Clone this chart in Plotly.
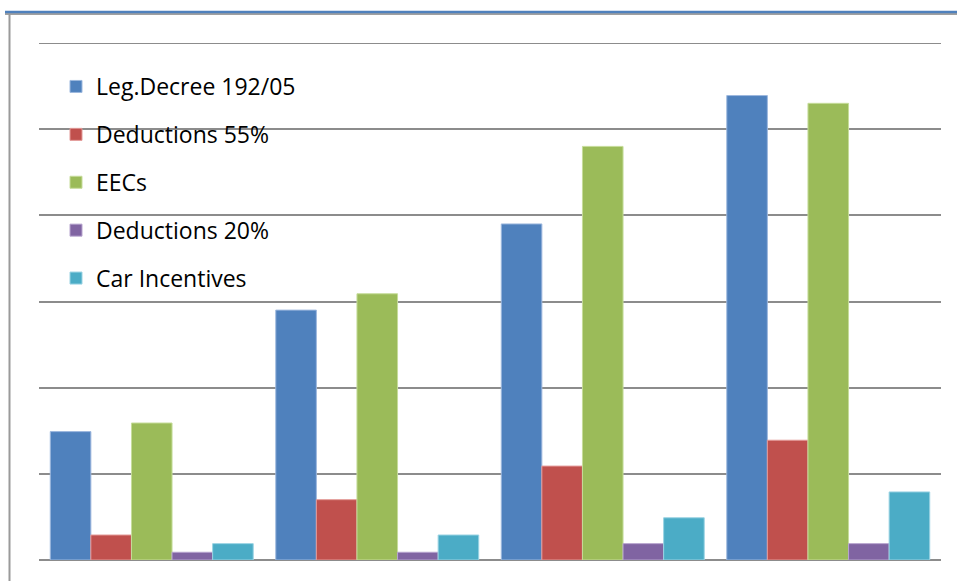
import plotly.graph_objects as go

categories = ["1", "2", "3", "4"]
series_names = ["Leg.Decree 192/05", "Deductions 55%", "EECs", "Deductions 20%", "Car Incentives"]
leg_decree = [1.49, 2.90, 3.90, 5.39]
deductions_55 = [0.29, 0.70, 1.09, 1.39]
eecs = [1.59, 3.09, 4.80, 5.30]
deductions_20 = [0.09, 0.09, 0.19, 0.19]
car_incentives = [0.19, 0.29, 0.49, 0.79]
colors = ["#4F81BD", "#C0504D", "#9BBB59", "#8064A2", "#4BACC6"]
edge_colors = ["#9DB8DE", "#E39A98", "#C6DC9A", "#B7A4CE", "#9AD3E3"]

values = [leg_decree, deductions_55, eecs, deductions_20, car_incentives]

fig = go.Figure()
for i, (name, vals) in enumerate(zip(series_names, values)):
    fig.add_trace(go.Bar(
        x=categories, y=vals, name=name,
        marker=dict(color=colors[i], line=dict(color=edge_colors[i], width=1)),
        legendgroup=name,
    ))

W, H = 957, 581
L, R, T, B = 39, 16, 43, 21
pw, ph = W - L - R, H - T - B

def px_x(p):
    return (p - L) / pw

def px_y(p):
    return (H - B - p) / ph

shapes = [
    dict(type="line", xref="paper", yref="paper", x0=px_x(5), x1=px_x(960),
         y0=px_y(14), y1=px_y(14), line=dict(color="#A0A0A0", width=2)),
    dict(type="line", xref="paper", yref="paper", x0=px_x(5), x1=px_x(960),
         y0=px_y(12), y1=px_y(12), line=dict(color="#4F81BD", width=2.5)),
    dict(type="line", xref="paper", yref="paper", x0=px_x(9.5), x1=px_x(9.5),
         y0=px_y(14), y1=px_y(585), line=dict(color="#9A9A9A", width=2)),
    dict(type="line", xref="paper", yref="y", x0=0, x1=1, y0=6, y1=6,
         line=dict(color="#8C8C8C", width=2), layer="below"),
]

fig.update_layout(
    width=W, height=H,
    margin=dict(l=L, r=R, t=T, b=B),
    paper_bgcolor="white", plot_bgcolor="white",
    barmode="group", bargap=0.1, bargroupgap=0,
    showlegend=True,
    legend=dict(
        x=px_x(56), y=px_y(65), xanchor="left", yanchor="top",
        font=dict(family="Open Sans", size=23, color="#000000"),
        bgcolor="rgba(0,0,0,0)", tracegroupgap=15,
        traceorder="grouped",
    ),
    xaxis=dict(showticklabels=False, showgrid=False, zeroline=False,
               showline=False, ticks=""),
    yaxis=dict(range=[0, 6], dtick=1, showticklabels=False, showgrid=True,
               gridcolor="#8C8C8C", gridwidth=2, zeroline=True,
               zerolinecolor="#8C8C8C", zerolinewidth=2, showline=False, ticks=""),
    shapes=shapes,
)

fig.write_html("out.html")
